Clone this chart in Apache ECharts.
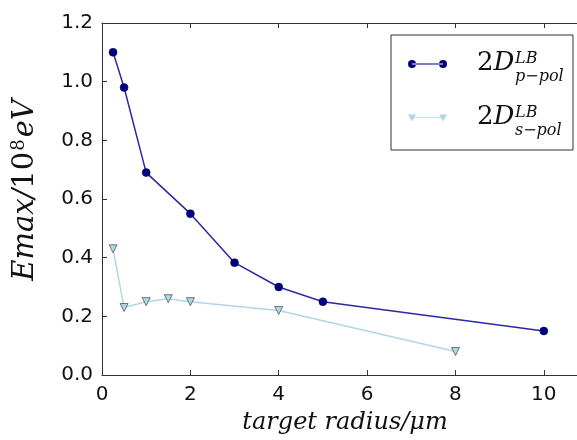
<!DOCTYPE html>
<html>
<head>
<meta charset="utf-8">
<script src="https://cdn.jsdelivr.net/npm/echarts@6/dist/echarts.min.js"></script>
<style>
  html, body { margin: 0; padding: 0; background: #fff; }
  #chart { width: 577px; height: 440px; }
</style>
</head>
<body>
<div id="chart"></div>
<script>
// p-pol curve (circles)
var radiusP = [0.25, 0.5, 1, 2, 3, 4, 5, 10];
var emaxP = [1.10, 0.98, 0.69, 0.55, 0.383, 0.30, 0.25, 0.15];
// s-pol curve (triangles)
var radiusS = [0.25, 0.5, 1, 1.5, 2, 4, 8];
var emaxS = [0.43, 0.23, 0.25, 0.26, 0.25, 0.22, 0.08];
var seriesNames = ['p-pol', 's-pol'];
var xTicks = [0, 2, 4, 6, 8, 10];

function zip(xs, ys) {
  return xs.map(function (x, i) { return [x, ys[i]]; });
}

var serif = '"DejaVu Serif"';
var chart = echarts.init(document.getElementById('chart'));

// legend label: 2D with LB on top and the polarisation below
function legendLabel(top, sub) {
  return [
    { type: 'text', left: 477, top: top, style: { text: '{n|2}{i|D}', rich: { n: { font: '26px ' + serif, fill: '#111' }, i: { font: 'italic 26px ' + serif, fill: '#111' } } } },
    { type: 'text', left: 515, top: top + 1, style: { text: 'LB', font: 'italic 16px ' + serif, fill: '#111' } },
    { type: 'text', left: 515, top: top + 19, style: { text: sub, font: 'italic 16px ' + serif, fill: '#111' } }
  ];
}

chart.setOption({
  animation: false,
  // plot runs past the right edge of the canvas (cropped like the original)
  grid: { left: 102, top: 23, width: 486, bottom: 65, outerBoundsMode: 'none' },
  xAxis: [{
    type: 'value',
    min: 0, max: 11, interval: 2,
    name: 'target radius/μm',
    nameLocation: 'middle',
    nameGap: 36,
    nameTextStyle: { fontFamily: serif, fontStyle: 'italic', fontSize: 24, color: '#111' },
    axisLine: { lineStyle: { color: '#333', width: 1 } },
    axisTick: { inside: true, length: 5, lineStyle: { color: '#333' } },
    axisLabel: {
      margin: 10, fontFamily: 'DejaVu Sans', fontSize: 20, color: '#111',
      showMaxLabel: false,
      formatter: function (v) { return xTicks.indexOf(v) >= 0 ? String(v) : ''; }
    },
    splitLine: { show: false }
  }, {
    // top spine with inside ticks
    type: 'value', position: 'top',
    min: 0, max: 11, interval: 2,
    axisLine: { show: true, onZero: false, lineStyle: { color: '#333', width: 1 } },
    axisTick: { inside: true, length: 5, lineStyle: { color: '#333' } },
    axisLabel: { show: false },
    splitLine: { show: false }
  }],
  yAxis: {
    type: 'value',
    min: 0, max: 1.2, interval: 0.2,
    name: '{i|Emax/}{n|10}{s|8}{i|eV}',
    nameLocation: 'middle',
    nameGap: 62,
    nameTextStyle: {
      padding: [0, 0, 0, 18],
      rich: {
        i: { fontFamily: serif, fontStyle: 'italic', fontSize: 29, color: '#111' },
        n: { fontFamily: serif, fontSize: 29, color: '#111' },
        s: { fontFamily: serif, fontSize: 18, color: '#111', verticalAlign: 'top', padding: [0, 2, 12, 1] }
      }
    },
    axisLine: { show: true, lineStyle: { color: '#333', width: 1 } },
    axisTick: { inside: true, length: 5, lineStyle: { color: '#333' } },
    axisLabel: {
      margin: 9, fontFamily: 'DejaVu Sans', fontSize: 20, color: '#111',
      formatter: function (v) { return v.toFixed(1); }
    },
    splitLine: { show: false }
  },
  legend: {
    orient: 'vertical',
    left: 391, top: 35,
    padding: [22, 11, 25, 17],
    itemGap: 40,
    itemWidth: 39, itemHeight: 8,
    borderColor: '#333', borderWidth: 1,
    itemStyle: { borderWidth: 0 },
    data: [
      { name: seriesNames[0], icon: 'path://M0,4a4,4 0 1,0 8,0a4,4 0 1,0 -8,0Z M31,4a4,4 0 1,0 8,0a4,4 0 1,0 -8,0Z M4,3.5H35V4.5H4Z' },
      { name: seriesNames[1], icon: 'path://M0,0H8L4,7Z M31,0H39L35,7Z M6,2.8H33V3.6H6Z' }
    ],
    formatter: function () { return ' '; },
    textStyle: { width: 110, fontSize: 14, lineHeight: 14 }
  },
  graphic: legendLabel(50, 'p−pol').concat(legendLabel(104, 's−pol')),
  series: [{
    name: seriesNames[0],
    type: 'line',
    data: zip(radiusP, emaxP),
    symbol: 'circle',
    symbolSize: 8,
    itemStyle: { color: '#000080', borderColor: '#000050', borderWidth: 0.5 },
    lineStyle: { color: '#2a2aa0', width: 1.5 }
  }, {
    name: seriesNames[1],
    type: 'line',
    data: zip(radiusS, emaxS),
    symbol: 'triangle',
    symbolRotate: 180,
    symbolSize: 8,
    itemStyle: { color: '#add8e6', borderColor: '#555', borderWidth: 0.8 },
    lineStyle: { color: '#add8e6', width: 1.5 }
  }]
});
</script>
</body>
</html>
